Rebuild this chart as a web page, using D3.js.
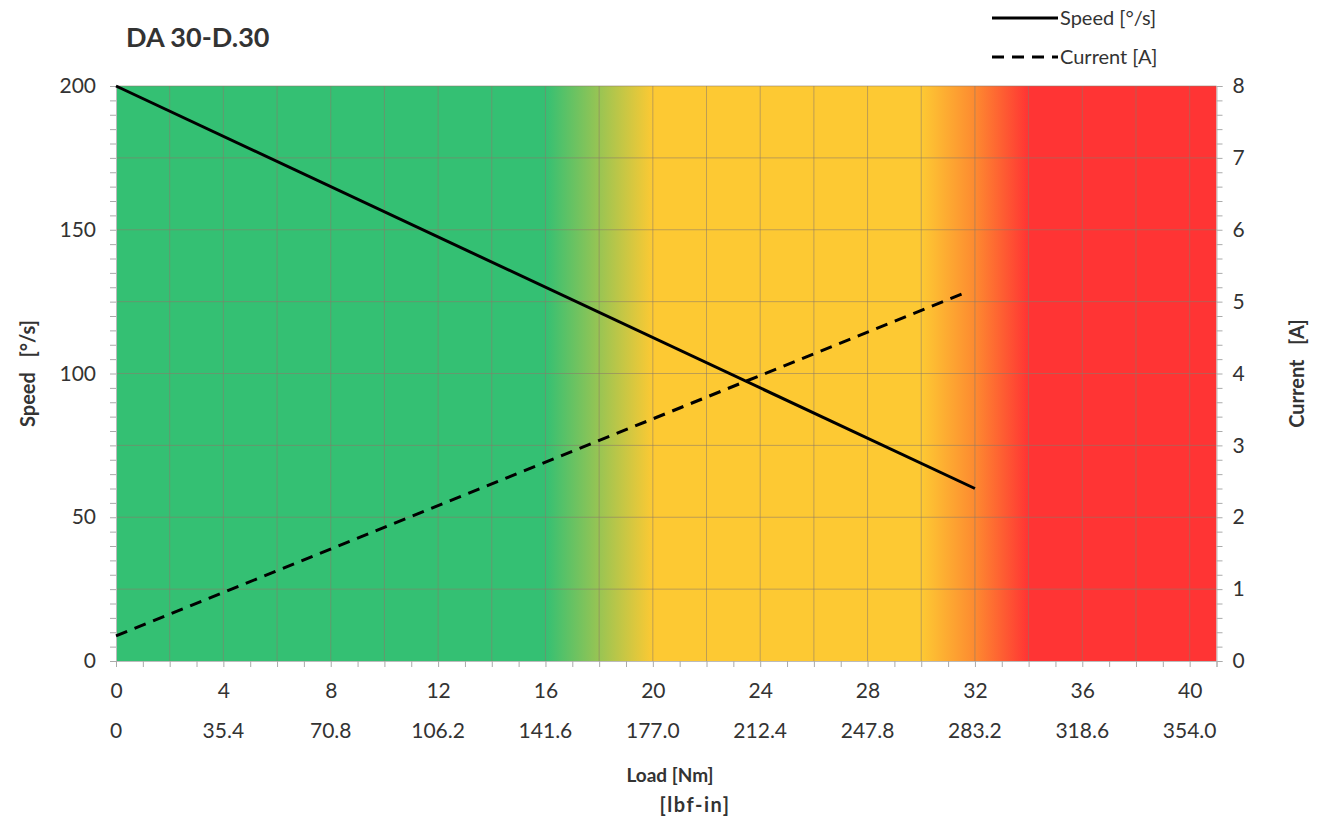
<!DOCTYPE html>
<html>
<head>
<meta charset="utf-8">
<script src="https://cdn.jsdelivr.net/npm/d3@7"></script>
<style>
  body { margin: 0; background: #fff; }
  text { font-family: Lato, "Open Sans", sans-serif; fill: #333; }
</style>
</head>
<body>
<svg id="chart" width="1321" height="821"></svg>
<script>
// data
const loadNm = [0, 32];
const speedDeg = [200, 60];
const currentLoad = [0, 31.6];
const currentA = [0.35, 5.12];

const loadTicks = [0, 4, 8, 12, 16, 20, 24, 28, 32, 36, 40];
const lbfLabels = ["0", "35.4", "70.8", "106.2", "141.6", "177.0", "212.4", "247.8", "283.2", "318.6", "354.0"];
const speedTicks = [0, 50, 100, 150, 200];
const currentTicks = [0, 1, 2, 3, 4, 5, 6, 7, 8];

// background zones (load in Nm where colour changes)
const zoneLoads = [0, 16, 20, 30, 32, 34, 41];
const zoneColors = ["#34c073", "#34c073", "#fdc933", "#fdc933", "#fd8a30", "#ff3434", "#ff3434"];

let layout = {"width": 1321, "height": 821,
              "left": 116, "right": 1216.5, "top": 86, "bottom": 661};

let svg = d3.select("#chart");

let x = d3.scaleLinear().domain([0, 41]).range([layout.left, layout.right]);
let ySpeed = d3.scaleLinear().domain([0, 200]).range([layout.bottom, layout.top]);
let yCur = d3.scaleLinear().domain([0, 8]).range([layout.bottom, layout.top]);

// gradient background
let grad = svg.append("defs").append("linearGradient")
  .attr("id", "zones")
  .attr("gradientUnits", "userSpaceOnUse")
  .attr("x1", x(0)).attr("x2", x(41)).attr("y1", 0).attr("y2", 0);
grad.selectAll("stop")
  .data(zoneLoads)
  .join("stop")
  .attr("offset", d => d / 41)
  .attr("stop-color", (d, i) => zoneColors[i]);

svg.append("rect")
  .attr("x", x(0)).attr("y", ySpeed(200))
  .attr("width", x(41) - x(0)).attr("height", ySpeed(0) - ySpeed(200))
  .attr("fill", "url(#zones)");

// grid
let grid = svg.append("g").attr("stroke", "#8a7a6a").attr("stroke-opacity", 0.55).attr("stroke-width", 1);
grid.selectAll(".vg")
  .data(d3.range(2, 41, 2))
  .join("line")
  .attr("x1", d => x(d)).attr("x2", d => x(d))
  .attr("y1", ySpeed(200)).attr("y2", ySpeed(0));
grid.selectAll(".hg")
  .data(d3.range(25, 201, 25))
  .join("line")
  .attr("x1", x(0)).attr("x2", x(41))
  .attr("y1", d => ySpeed(d)).attr("y2", d => ySpeed(d));

// axes
function styleAxis(g) {
  g.select(".domain").attr("stroke", "#bbb");
  g.selectAll(".tick line").attr("stroke", "#aaa");
  g.selectAll(".tick text").attr("font-size", 21).attr("fill", "#333")
   .style("font-family", "Lato, 'Open Sans', sans-serif");
}

svg.append("g")
  .attr("transform", `translate(${layout.left},0)`)
  .call(d3.axisLeft(ySpeed).tickValues(d3.range(0, 201, 5)).tickSize(6).tickPadding(14)
        .tickFormat(d => speedTicks.includes(d) ? d : ""))
  .call(styleAxis);

svg.append("g")
  .attr("transform", `translate(${layout.right},0)`)
  .call(d3.axisRight(yCur).tickValues(d3.range(0, 8.01, 0.2).map(v => +v.toFixed(1))).tickSize(6).tickPadding(10)
        .tickFormat(d => currentTicks.includes(d) ? d : ""))
  .call(styleAxis);

let xAxis = svg.append("g")
  .attr("transform", `translate(0,${layout.bottom})`)
  .call(d3.axisBottom(x).tickValues(d3.range(0, 42, 1)).tickSize(6).tickPadding(16)
        .tickFormat(d => loadTicks.includes(d) ? d : ""))
  .call(styleAxis);

svg.append("g").selectAll("text")
  .data(loadTicks)
  .join("text")
  .attr("x", d => x(d))
  .attr("y", 738)
  .attr("text-anchor", "middle")
  .attr("font-size", 21)
  .text((d, i) => lbfLabels[i]);

// lines
let speedPts = loadNm.map((d, i) => [d, speedDeg[i]]);
let curPts = currentLoad.map((d, i) => [d, currentA[i]]);

svg.append("path")
  .datum(speedPts)
  .attr("fill", "none").attr("stroke", "#000").attr("stroke-width", 3)
  .attr("d", d3.line().x(d => x(d[0])).y(d => ySpeed(d[1])));

svg.append("path")
  .datum(curPts)
  .attr("fill", "none").attr("stroke", "#000").attr("stroke-width", 3)
  .attr("stroke-dasharray", "12,8")
  .attr("d", d3.line().x(d => x(d[0])).y(d => yCur(d[1])));

// titles
svg.append("text").attr("x", 126).attr("y", 47)
  .attr("font-size", 27).attr("font-weight", "bold").attr("fill", "#111")
  .text("DA 30-D.30");

svg.append("text").attr("x", 670).attr("y", 782)
  .attr("text-anchor", "middle").attr("font-size", 19).attr("font-weight", "bold").attr("fill", "#222")
  .text("Load [Nm]");
svg.append("text").attr("x", 695).attr("y", 812)
  .attr("text-anchor", "middle").attr("font-size", 20).attr("font-weight", "bold").attr("fill", "#222")
  .attr("letter-spacing", 1.5)
  .text("[lbf-in]");

svg.append("text")
  .attr("transform", `translate(35,${(layout.top + layout.bottom) / 2}) rotate(-90)`)
  .attr("text-anchor", "middle").attr("font-size", 20).attr("font-weight", "bold").attr("fill", "#222")
  .attr("xml:space", "preserve")
  .text("Speed   [°/s]");

svg.append("text")
  .attr("transform", `translate(1304,${(layout.top + layout.bottom) / 2}) rotate(-90)`)
  .attr("text-anchor", "middle").attr("font-size", 20).attr("font-weight", "bold").attr("fill", "#222")
  .attr("xml:space", "preserve")
  .text("Current   [A]");

// legend
let legend = svg.append("g");
let legendItems = [["Speed [°/s]", null], ["Current [A]", "12,8"]];
legend.selectAll("line")
  .data(legendItems)
  .join("line")
  .attr("x1", 992).attr("x2", 1058)
  .attr("y1", (d, i) => 18 + i * 39).attr("y2", (d, i) => 18 + i * 39)
  .attr("stroke", "#000").attr("stroke-width", 3)
  .attr("stroke-dasharray", d => d[1]);
legend.selectAll("text")
  .data(legendItems)
  .join("text")
  .attr("x", 1060)
  .attr("y", (d, i) => 25 + i * 39)
  .attr("font-size", 20).attr("fill", "#444")
  .text(d => d[0]);
</script>
</body>
</html>
